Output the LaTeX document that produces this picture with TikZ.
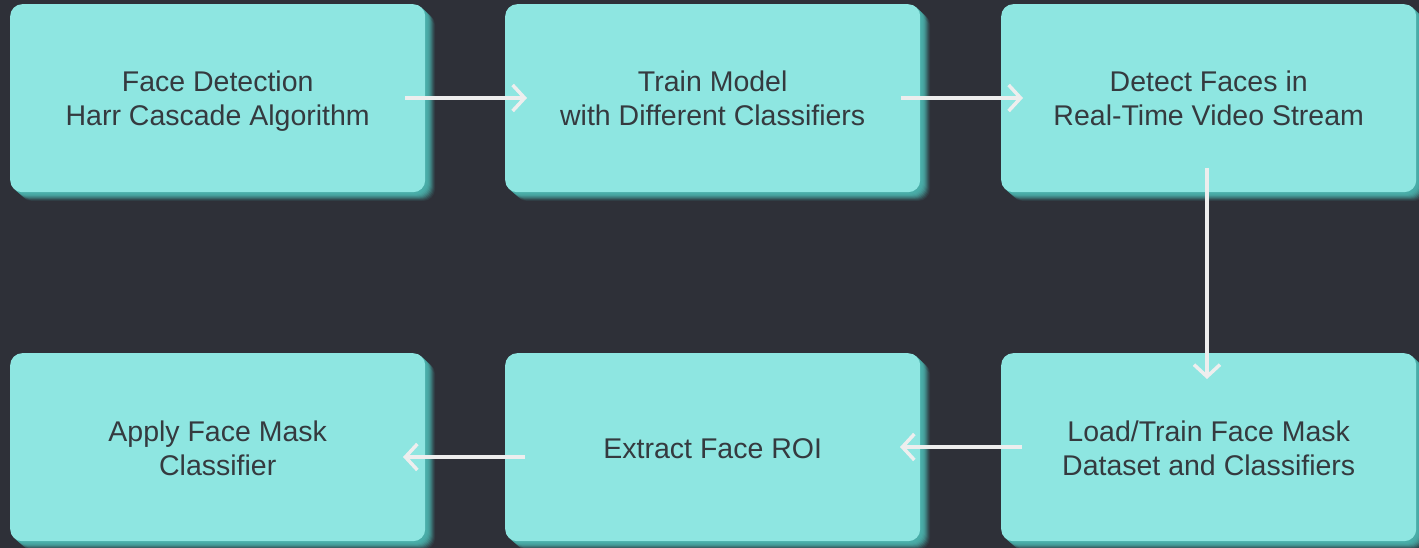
\documentclass[tikz,border=0pt]{standalone}
\usepackage{fontspec}
\setmainfont{Liberation Sans}
\usetikzlibrary{arrows.meta}
\definecolor{bgdark}{HTML}{2E3038}
\definecolor{boxfill}{HTML}{8EE6E1}
\definecolor{boxshade}{HTML}{4AAEA9}
\definecolor{txt}{HTML}{353A3F}
\definecolor{flow}{HTML}{EEEEEE}
\tikzset{
  x=1pt, y=-1pt,
  card/.style={fill=boxfill, rounded corners=12pt, minimum width=415pt, minimum height=188pt,
    anchor=north west, inner sep=0pt},
  cardtext/.style={text=txt, align=center, yshift=-4pt, font=\fontsize{28.5}{34}\selectfont},
  flowarrow/.style={draw=flow, line width=3.5pt, -{Straight Barb[length=12pt, width=26pt, line width=3.5pt]}},
}
\newcommand{\cl}{\strut}
\begin{document}
\begin{tikzpicture}
\fill[bgdark] (0,0) rectangle (1419,548);
\useasboundingbox (0,0) rectangle (1419,548);
% soft shadows under the cards
\foreach \cx/\cy in {10/4,505/4,1001/4,10/353,505/353,1001/353} {
  \foreach \k/\o in {10/0.1,9/0.14,8/0.2,7/0.27,6/0.34,5/0.42,4/0.52,3/0.65,2/0.8} {
    \fill[boxshade, opacity=\o, rounded corners=12pt]
      (\cx+\k,\cy+\k*0.9) rectangle ++(415,188);
  }
}
% cards
\node[card] (b1) at (10,4) {};
\node[card] (b2) at (505,4) {};
\node[card] (b3) at (1001,4) {};
\node[card] (b4) at (1001,353) {};
\node[card] (b5) at (505,353) {};
\node[card] (b6) at (10,353) {};
% labels
\node[cardtext] at (b1.center) {\cl Face Detection\\\cl Harr Cascade Algorithm};
\node[cardtext] at (b2.center) {\cl Train Model\\\cl with Different Classifiers};
\node[cardtext] at (b3.center) {\cl Detect Faces in\\\cl Real-Time Video Stream};
\node[cardtext] at (b4.center) {\cl Load/Train Face Mask\\\cl Dataset and Classifiers};
\node[cardtext] at (b5.center) {\cl Extract Face ROI};
\node[cardtext] at (b6.center) {\cl Apply Face Mask\\\cl Classifier};
% connector end points
\coordinate (a1s) at (405,98);  \coordinate (a1e) at (527,98);
\coordinate (a2s) at (901,98);  \coordinate (a2e) at (1023,98);
\coordinate (a3s) at (1207,168); \coordinate (a3e) at (1207,379);
\coordinate (a4s) at (1022,447); \coordinate (a4e) at (900,447);
\coordinate (a5s) at (525,457); \coordinate (a5e) at (403,457);
\draw[flowarrow] (a1s) -- (a1e);
\draw[flowarrow] (a2s) -- (a2e);
\draw[flowarrow] (a3s) -- (a3e);
\draw[flowarrow] (a4s) -- (a4e);
\draw[flowarrow] (a5s) -- (a5e);
\end{tikzpicture}
\end{document}
